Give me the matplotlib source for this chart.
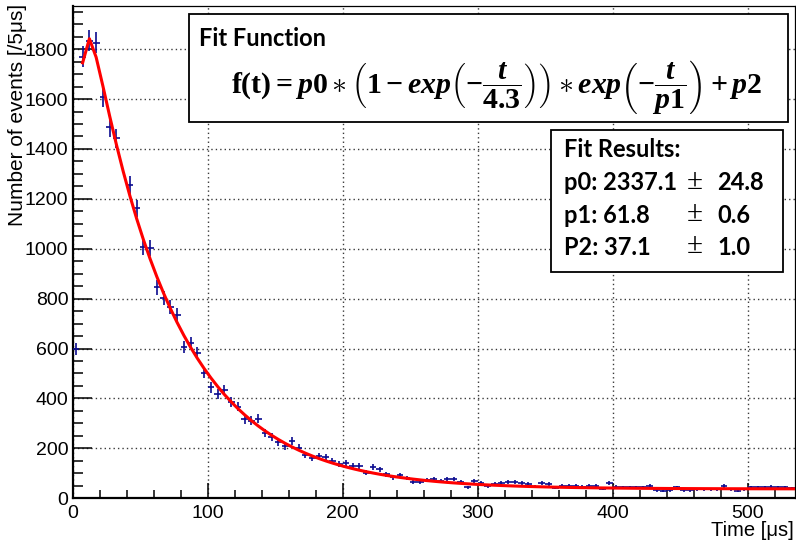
import numpy as np
import matplotlib
matplotlib.use("Agg")
import matplotlib.pyplot as plt
from matplotlib.patches import Rectangle
from matplotlib.ticker import MultipleLocator

plt.rcParams["font.family"] = ["Liberation Sans", "DejaVu Sans"]
plt.rcParams["mathtext.fontset"] = "custom"
plt.rcParams["mathtext.rm"] = "Liberation Serif:bold"
plt.rcParams["mathtext.it"] = "Liberation Serif:italic:bold"
plt.rcParams["mathtext.bf"] = "Liberation Serif:bold"

# ---------------- data ----------------
bin_width = 5.0
counts = [598, 1770, 1834, 1826, 1607, 1487, 1443, np.nan, 1255, 1162,
          1008, 1002, 845, 801, 765, 734, 605, 621, 581, 503,
          444, 418, 434, 387, 367, 316, 311, 319, 260, 244,
          226, 209, 230, 202, 173, 162, 170, 166, 149, 136,
          140, 130, 130, 102, 124, 116, 96, 84, 91, 80,
          66, 64, 73, 76, 70, 76, 76, 64, 44, 70,
          62, 49, 57, 60, 64, 64, 60, 57, 46, 60,
          57, 42, 50, 49, 50, 46, 49, 50, 37, 60,
          46, 44, 44, 44, 44, 49, 32, 29, 32, 44,
          32, 32, 36, 36, 36, 36, 49, 36, 30, 36,
          44, 44, 44, 46, 44, 44, 40]
counts = np.array(counts, dtype=float)
t_centers = bin_width / 2 + bin_width * np.arange(len(counts))

# fit parameters
p0, p1, p2 = 2337.1, 61.8, 37.1
tau_rise = 4.3
fit_start, x_max = 7.5, 535.0
y_max = 1973.0

fit_labels = ["p0: 2337.1", "p1: 61.8", "P2: 37.1"]
fit_errors = ["24.8", "0.6", "1.0"]

# ---------------- figure ----------------
W, H = 796, 543
fig = plt.figure(figsize=(W / 100, H / 100), dpi=100)

def fx(px):
    return px / W

def fy(py):
    return 1 - py / H

ax_l, ax_r, ax_t, ax_b = 72.5, 795.0, 6.0, 498.2
ax = fig.add_axes([fx(ax_l), fy(ax_b), fx(ax_r) - fx(ax_l), fy(ax_t) - fy(ax_b)])

ax.set_xlim(0, x_max)
ax.set_ylim(0, y_max)

# grid
ax.xaxis.set_major_locator(MultipleLocator(100))
ax.xaxis.set_minor_locator(MultipleLocator(20))
ax.yaxis.set_major_locator(MultipleLocator(200))
ax.yaxis.set_minor_locator(MultipleLocator(50))
ax.grid(True, which="major", color="#3a3a3a", linestyle=(0, (1, 2.2)), linewidth=1.0)
ax.set_axisbelow(True)

# data points
mask = ~np.isnan(counts)
ax.errorbar(t_centers[mask], counts[mask], yerr=np.sqrt(counts[mask]),
            xerr=bin_width / 2, fmt="none", ecolor="#0b0b8f",
            elinewidth=1.2, capsize=0, zorder=3)

# fit curve
t_fit = np.append(np.arange(fit_start, x_max, bin_width), x_max)
f_fit = p0 * (1 - np.exp(-t_fit / tau_rise)) * np.exp(-t_fit / p1) + p2
ax.plot(t_fit, f_fit, color="#ff0000", linewidth=2.2, zorder=4)

# axes styling
for side in ["left", "bottom"]:
    ax.spines[side].set_linewidth(1.6)
for side in ["top", "right"]:
    ax.spines[side].set_linewidth(0.9)
ax.tick_params(axis="y", which="major", direction="in", length=14, width=1.1,
               labelsize=14, pad=3)
ax.tick_params(axis="y", which="minor", direction="in", length=7.5, width=1.1)
ax.tick_params(axis="x", which="major", direction="in", length=10.5, width=1.1,
               labelsize=14, pad=5)
ax.tick_params(axis="x", which="minor", direction="in", length=5.5, width=1.1)

# axis titles (ROOT style, at the axis ends)
fig.text(fx(17.5), fy(4), "Number of events [/5\u03bcs]", rotation=90,
         ha="center", va="top", fontsize=15)
fig.text(fx(794), fy(531), "Time [\u03bcs]", ha="right", va="center",
         fontsize=14.5)

# ---------------- boxes ----------------
def box(x0, y0, x1, y1):
    r = Rectangle((fx(x0), fy(y1)), fx(x1) - fx(x0), fy(y0) - fy(y1),
                  transform=fig.transFigure, facecolor="white",
                  edgecolor="black", linewidth=1.3, zorder=10)
    fig.patches.append(r)

box(189, 14, 788, 122)
box(551, 130, 783, 272)

fig.text(fx(199), fy(38), "Fit Function", ha="left", va="center",
         fontsize=17, fontweight="bold", family="Lato", zorder=11)

eq = (r"$\mathrm{f(t)} = \mathit{p0} \ast \left(\mathrm{1} - \mathit{exp}"
      r"\left(-\dfrac{\mathit{t}}{\mathrm{4.3}}\right)\right) \ast \mathit{exp}"
      r"\left(-\dfrac{\mathit{t}}{\mathit{p1}}\right) + \mathit{p2}$")
fig.text(fx(497), fy(88), eq, ha="center", va="center", fontsize=21.5, zorder=11)

fig.text(fx(564), fy(157), "Fit Results:", ha="left", va="baseline",
         fontsize=17, fontweight="bold", family="Lato", zorder=11)
baselines = [190.5, 223, 255]
for lab, err, yb in zip(fit_labels, fit_errors, baselines):
    fig.text(fx(564), fy(yb), lab, ha="left", va="baseline",
             fontsize=17, fontweight="bold", family="Lato", zorder=11)
    fig.text(fx(687), fy(yb - 2), "\u00b1", ha="left", va="baseline",
             fontsize=21, family="Liberation Serif", zorder=11)
    fig.text(fx(717), fy(yb), err, ha="left", va="baseline",
             fontsize=17, fontweight="bold", family="Lato", zorder=11)

fig.savefig("out.png", dpi=100)
